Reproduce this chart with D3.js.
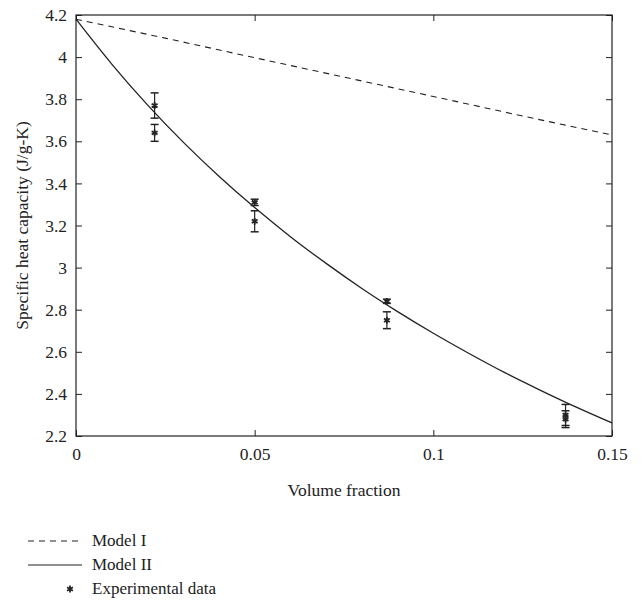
<!DOCTYPE html>
<html>
<head>
<meta charset="utf-8">
<script src="https://cdn.jsdelivr.net/npm/d3@7"></script>
<style>
  body { margin: 0; background: #fff; }
  text { font-family: "Liberation Serif", "DejaVu Serif", serif; fill: #222; }
</style>
</head>
<body>
<div id="chart"></div>
<script>
// Model I (dashed)
const modelIX = [0, 0.025, 0.05, 0.075, 0.1, 0.125, 0.15];
const modelIY = [4.18, 4.09, 3.997, 3.905, 3.813, 3.72, 3.63];

// Model II (solid curve)
const modelIIX = [0, 0.01, 0.02, 0.03, 0.04, 0.05, 0.06, 0.07, 0.08, 0.09, 0.10, 0.11, 0.12, 0.13, 0.14, 0.15];
const modelIIY = [4.18, 3.967, 3.773, 3.596, 3.434, 3.285, 3.147, 3.02, 2.901, 2.791, 2.688, 2.592, 2.501, 2.417, 2.337, 2.262];

// experimental points: volume fraction, value, error
const expX = [0.022, 0.022, 0.05, 0.05, 0.087, 0.087, 0.137, 0.137];
const expY = [3.77, 3.64, 3.31, 3.22, 2.84, 2.75, 2.30, 2.28];
const expErr = [0.06, 0.04, 0.015, 0.05, 0.01, 0.04, 0.05, 0.04];

const xTicks = [0, 0.05, 0.1, 0.15];
const yTicks = [2.2, 2.4, 2.6, 2.8, 3, 3.2, 3.4, 3.6, 3.8, 4, 4.2];

const legendLabels = ["Model I", "Model II", "Experimental data"];

const svgWidth = 643, svgHeight = 600;
const margin = { top: 15, right: 31, bottom: 164, left: 76 };
const width = svgWidth - margin.left - margin.right;
const height = svgHeight - margin.top - margin.bottom;

const svg = d3.select("#chart").append("svg")
    .attr("width", svgWidth)
    .attr("height", svgHeight);

const g = svg.append("g")
    .attr("transform", `translate(${margin.left},${margin.top})`);

const x = d3.scaleLinear().domain([0, 0.15]).range([0, width]);
const y = d3.scaleLinear().domain([2.2, 4.2]).range([height, 0]);

// axes with inward ticks
const fmt = d => d === 0 ? "0" : String(d);
g.append("g")
    .attr("transform", `translate(0,${height})`)
    .call(d3.axisBottom(x).tickValues(xTicks).tickFormat(fmt).tickSizeInner(-6).tickSizeOuter(0).tickPadding(12))
    .call(a => a.select(".domain").remove());
g.append("g")
    .call(d3.axisTop(x).tickValues(xTicks).tickFormat("").tickSizeInner(-6).tickSizeOuter(0))
    .call(a => a.select(".domain").remove());
g.append("g")
    .call(d3.axisLeft(y).tickValues(yTicks).tickFormat(fmt).tickSizeInner(-6).tickSizeOuter(0).tickPadding(9))
    .call(a => a.select(".domain").remove());
g.append("g")
    .attr("transform", `translate(${width},0)`)
    .call(d3.axisRight(y).tickValues(yTicks).tickFormat("").tickSizeInner(-6).tickSizeOuter(0))
    .call(a => a.select(".domain").remove());

g.selectAll(".tick line").attr("stroke", "#222");
g.selectAll(".tick text")
    .style("font-size", "17.5px")
    .attr("fill", "#222");

g.append("rect")
    .attr("width", width).attr("height", height)
    .attr("fill", "none").attr("stroke", "#222").attr("stroke-width", 1.2);

const line = d3.line().x(d => x(d[0])).y(d => y(d[1]));
const lineCurve = d3.line().curve(d3.curveMonotoneX).x(d => x(d[0])).y(d => y(d[1]));

g.append("path")
    .datum(modelIX.map((v, i) => [v, modelIY[i]]))
    .attr("fill", "none").attr("stroke", "#222").attr("stroke-width", 1.1)
    .attr("stroke-dasharray", "6,5")
    .attr("d", line);

g.append("path")
    .datum(modelIIX.map((v, i) => [v, modelIIY[i]]))
    .attr("fill", "none").attr("stroke", "#222").attr("stroke-width", 1.3)
    .attr("d", lineCurve);

// error bars
const expData = expX.map((v, i) => ({ x: v, y: expY[i], e: expErr[i] }));
const eb = g.selectAll(".eb").data(expData).enter().append("g").attr("class", "eb");
eb.append("line")
    .attr("x1", d => x(d.x)).attr("x2", d => x(d.x))
    .attr("y1", d => y(d.y - d.e)).attr("y2", d => y(d.y + d.e))
    .attr("stroke", "#222").attr("stroke-width", 1.2);
eb.append("line")
    .attr("x1", d => x(d.x) - 4).attr("x2", d => x(d.x) + 4)
    .attr("y1", d => y(d.y - d.e)).attr("y2", d => y(d.y - d.e))
    .attr("stroke", "#222").attr("stroke-width", 1.5);
eb.append("line")
    .attr("x1", d => x(d.x) - 4).attr("x2", d => x(d.x) + 4)
    .attr("y1", d => y(d.y + d.e)).attr("y2", d => y(d.y + d.e))
    .attr("stroke", "#222").attr("stroke-width", 1.5);

// asterisk markers
const star = d3.symbol().type(d3.symbolAsterisk).size(32);
function drawStar(sel) {
    sel.append("path").attr("d", star)
        .attr("fill", "none").attr("stroke", "#222").attr("stroke-width", 1.8);
}
g.selectAll(".pt").data(expData).enter().append("g")
    .attr("class", "pt")
    .attr("transform", d => `translate(${x(d.x)},${y(d.y)})`)
    .call(drawStar);

// axis titles
g.append("text")
    .attr("x", width / 2).attr("y", height + 60)
    .attr("text-anchor", "middle")
    .style("font-size", "17.5px")
    .text("Volume fraction");

g.append("text")
    .attr("transform", "rotate(-90)")
    .attr("x", -height / 2).attr("y", -margin.left + 28)
    .attr("text-anchor", "middle")
    .style("font-size", "17.5px")
    .text("Specific heat capacity (J/g-K)");

// legend
const legend = svg.append("g").attr("transform", "translate(28,541)");
legendLabels.forEach((lab, i) => {
    const row = legend.append("g").attr("transform", `translate(0,${i * 24})`);
    if (i === 0) {
        row.append("line").attr("x1", 0).attr("x2", 54).attr("y1", 0).attr("y2", 0)
            .attr("stroke", "#222").attr("stroke-width", 1.1).attr("stroke-dasharray", "6,5");
    } else if (i === 1) {
        row.append("line").attr("x1", 0).attr("x2", 54).attr("y1", 0).attr("y2", 0)
            .attr("stroke", "#222").attr("stroke-width", 1.2);
    } else {
        row.append("g").attr("transform", "translate(42,0)").call(drawStar);
    }
    row.append("text")
        .attr("x", 64).attr("y", 5)
        .style("font-size", "17px")
        .text(lab);
});
</script>
</body>
</html>
